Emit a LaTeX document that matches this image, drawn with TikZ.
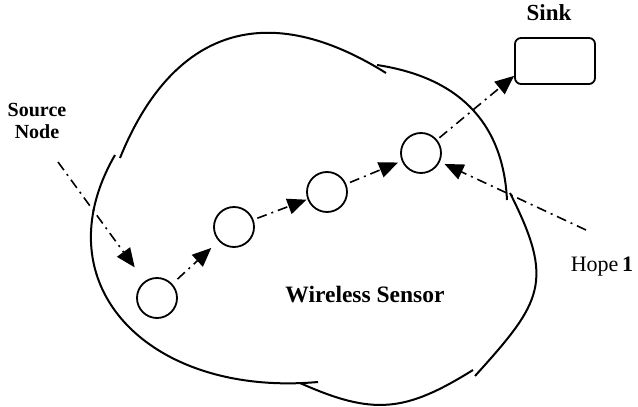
\documentclass[tikz,border=0pt]{standalone}
\usepackage{fontspec}
\setmainfont{Liberation Serif}
\usetikzlibrary{arrows.meta, positioning}

\begin{document}
\begin{tikzpicture}[
    x = 1pt, y = 1pt, % one unit is one pixel of the layout
    > = {Triangle[length=19pt, width=16pt]}, % arrow head style
    line width = 1.8pt, % line style
    font = \bfseries
]

\tikzstyle{sensor}=[
    circle,
    draw,
    minimum size = 40pt,
    inner sep = 0pt,
]
\tikzstyle{hop}=[
    ->,
    line width = 1.6pt,
    dash pattern = on 10pt off 5pt on 2pt off 5pt,
]
\tikzstyle{cloud}=[
    line width = 2pt,
]

\useasboundingbox (0,0) rectangle (638,407);

% the sensor field
\draw[cloud] (120,249) .. controls (169,370) and (259,413.5) .. (386,334);
\draw[cloud] (115,252) .. controls (40,122) and (149,10) .. (318,25);
\draw[cloud] (300,24) .. controls (373,-8.6) and (405,-5.4) .. (473,37);
\draw[cloud] (510,214) .. controls (555,125) and (542,105) .. (475,31);
\draw[cloud] (377,342) .. controls (456,330) and (503,287) .. (507,207);

\node[sensor] (s1) at (157,109) {};
\node[sensor] (s2) at (234,180) {};
\node[sensor] (s3) at (327,215) {};
\node[sensor] (s4) at (421,254) {};
\node[draw, rounded corners=6pt, minimum width=80pt, minimum height=46pt]
    (sink) at (555,346) {};

\node[align=center, font=\fontsize{20}{22}\selectfont\bfseries]
    (srclabel) at (37,286) {Source\\Node};
\node[anchor=base, font=\fontsize{23}{26}\selectfont\bfseries]
    (sinklabel) at (549,386) {Sink};
\node[anchor=base, font=\fontsize{23.5}{26}\selectfont\bfseries]
    (field) at (365,104) {Wireless Sensor};
\node[anchor=base, font=\fontsize{22}{24}\selectfont]
    (hopelabel) at (602,135) {Hope\,\textbf{1}};

\coordinate (src) at (58,245);
\coordinate (hope) at (586,177);

\path[hop] (src) edge[shorten >=17pt] (s1);
\path[hop] (s1) edge[shorten <=7pt, shorten >=10pt] (s2);
\path[hop] (s2) edge[shorten <=4pt, shorten >=1pt] (s3);
\path[hop] (s3) edge[shorten <=4pt, shorten >=4pt] (s4);
\path[hop] (s4) edge[shorten <=3pt] (sink.200);
\path[hop] (hope) edge[shorten >=5pt] (s4);
\end{tikzpicture}
\end{document}
